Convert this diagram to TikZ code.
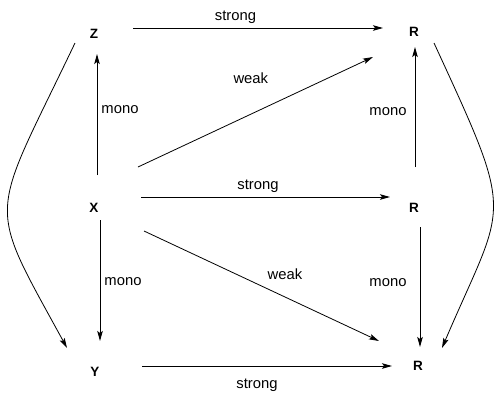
\documentclass[tikz,border=0pt]{standalone}
\usepackage{fontspec}
\setmainfont{Liberation Sans}
\usetikzlibrary{arrows.meta,calc}

\begin{document}
\begin{tikzpicture}[
  x=1pt, y=-1pt,
  >={Stealth[length=10pt,width=5.5pt,inset=2pt]},
  obj/.style={inner sep=0pt, font=\fontsize{13.5}{15}\selectfont\bfseries},
  lbl/.style={inner sep=0pt, font=\fontsize{14.8}{16}\selectfont},
  arr/.style={->, line width=0.8pt},
]
\useasboundingbox (0,0) rectangle (498,394);
% objects
\node[obj] (Z)  at (94,34)    {Z};
\node[obj] (Rt) at (414,31.5) {R};
\node[obj] (X)  at (94,207.5) {X};
\node[obj] (Rm) at (414,207.5){R};
\node[obj] (Y)  at (95,372)   {Y};
\node[obj] (Rb) at (418,365.5){R};
% strong
\draw[arr] ($(Z)+(39,-6)$) -- node[lbl, pos=.41, yshift=10.5pt]{strong} ($(Rt)+(-31,-3.5)$);
\draw[arr] ($(X)+(47,-10.5)$) -- node[lbl, pos=.47, yshift=10.5pt]{strong} ($(Rm)+(-24,-10.5)$);
\draw[arr] ($(Y)+(47,-6)$) -- node[lbl, pos=.46, yshift=-19pt]{strong} ($(Rb)+(-26,0.5)$);
% weak
\draw[arr] ($(X)+(44,-40.5)$) -- node[lbl, pos=.48, yshift=35.5pt]{weak} ($(Rt)+(-41,25.5)$);
\draw[arr] ($(X)+(50,23.5)$) -- node[lbl, pos=.6, yshift=23pt]{weak} ($(Rb)+(-39,-24.5)$);
% mono
\draw[arr] ($(X)+(3,-32.5)$) -- node[lbl, pos=.54, xshift=23pt]{mono} ($(Z)+(3,20)$);
\draw[arr] ($(X)+(6,12.5)$) -- node[lbl, pos=.51, xshift=23pt]{mono} ($(Y)+(5,-31)$);
\draw[arr] ($(Rm)+(1,-40.5)$) -- node[lbl, pos=.46, xshift=-27pt]{mono} ($(Rt)+(1,15.5)$);
\draw[arr] ($(Rm)+(6,19.5)$) -- node[lbl, pos=.46, xshift=-32pt]{mono} ($(Rb)+(2,-18.5)$);
% outer curves
\draw[arr] ($(Z)+(-19,9)$) .. controls (-11,223) and (-15,198) .. ($(Y)+(-28,-24)$);
\draw[arr] ($(Rt)+(20,11.5)$) .. controls (517,223) and (506,198) .. ($(Rb)+(24,-17.5)$);
\end{tikzpicture}
\end{document}
